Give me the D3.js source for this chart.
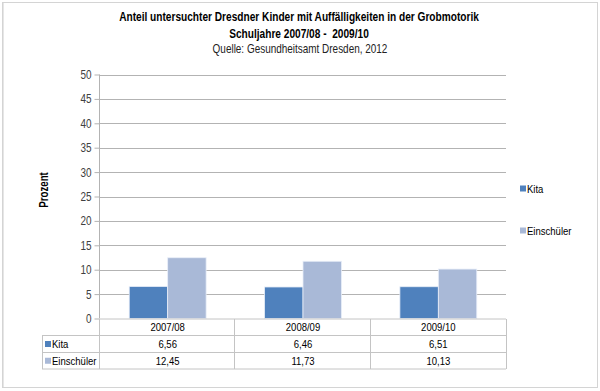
<!DOCTYPE html>
<html><head><meta charset="utf-8">
<script src="https://cdn.jsdelivr.net/npm/d3@7"></script>
<style>
body{margin:0;background:#fff;}
svg{display:block;font-family:"Liberation Sans",Arial,sans-serif;}
</style></head><body>
<svg id="c" width="600" height="391"></svg>
<script>
const categories = ["2007/08","2008/09","2009/10"];
const seriesNames = ["Kita","Einschüler"];
const kita = [6.56,6.46,6.51];
const einschueler = [12.45,11.73,10.13];
const kitaLabels = ["6,56","6,46","6,51"];
const einschuelerLabels = ["12,45","11,73","10,13"];
const yTicks = [0,5,10,15,20,25,30,35,40,45,50];
const colors = ["#4F81BD","#A9B9D7"];

(function(){
const SX = 0.83; // narrow font emulation
const SXB = 0.78;
const svg = d3.select("#c");
function txt(parent, x, y, s, size, opts){
  opts = opts || {};
  const sx = opts.bold ? SXB : SX;
  const g = parent.append("g").attr("transform",`translate(${x},${y})${opts.rot?` rotate(${opts.rot})`:""} scale(${sx},1)`);
  const t = g.append("text").attr("x",0).attr("y",0).attr("font-size",size)
    .attr("text-anchor",opts.anchor||"start").attr("fill",opts.fill||"#000")
    .attr("font-weight",opts.bold?"bold":"normal").text(s);
  if (opts.pre) t.attr("xml:space","preserve");
  return t;
}
svg.append("rect").attr("x",2.5).attr("y",2.5).attr("width",595).attr("height",385)
  .attr("fill","#fff").attr("stroke","#d4d4d4").attr("stroke-width",1);
svg.append("line").attr("x1",3.5).attr("x2",3.5).attr("y1",3).attr("y2",387).attr("stroke","#e6e6e6").attr("stroke-width",1);

txt(svg,299,21,"Anteil untersuchter Dresdner Kinder mit Auffälligkeiten in der Grobmotorik",13,{anchor:"middle",bold:true});
txt(svg,299,38,"Schuljahre 2007/08 -  2009/10",13,{anchor:"middle",bold:true,pre:true});
txt(svg,300,53,"Quelle: Gesundheitsamt Dresden, 2012",12,{anchor:"middle",fill:"#222"});

const pLeft = 100, pRight = 506, pTop = 74.5, pBottom = 318.5;
const x = d3.scaleBand().domain(categories).range([pLeft,pRight]);
const xs = d3.scaleBand().domain(seriesNames).range([0,x.bandwidth()]).paddingInner(0).paddingOuter(0.76);
const y = d3.scaleLinear().domain([0,50]).range([pBottom,pTop]);

svg.append("g").selectAll("line").data(yTicks.filter(d=>d>0)).join("line")
  .attr("x1",pLeft).attr("x2",pRight).attr("y1",d=>Math.round(y(d))+0.5).attr("y2",d=>Math.round(y(d))+0.5)
  .attr("stroke","#b3b3b3");

const yAxis = d3.axisLeft(y).tickValues(yTicks).tickSize(5).tickFormat("");
const ga = svg.append("g").attr("transform",`translate(${pLeft-0.5},0)`).call(yAxis);
ga.select(".domain").attr("stroke","#b3b3b3").attr("d",`M0,${pTop}V${pBottom}`);
ga.selectAll(".tick line").attr("stroke","#b3b3b3");
ga.selectAll(".tick").each(function(d){
  txt(d3.select(this), -8, 4, String(d), 12, {anchor:"end", fill:"#404040"});
});

txt(svg,47.5,190,"Prozent",12.5,{anchor:"middle",bold:true,rot:-90});

const data = [kita, einschueler];
data.forEach((vals,si)=>{
  svg.append("g").selectAll("rect").data(categories).join("rect")
    .attr("x",(c)=>x(c)+xs(seriesNames[si]))
    .attr("width",xs.bandwidth())
    .attr("y",(c,i)=>y(vals[i]))
    .attr("height",(c,i)=>y(0)-y(vals[i]))
    .attr("fill",colors[si]).attr("stroke","#e8eef8").attr("stroke-width",0.8);
});

seriesNames.forEach((s,i)=>{
  const ly = [189,231][i];
  svg.append("rect").attr("x",520).attr("y",ly-3.5).attr("width",6).attr("height",6).attr("fill",colors[i]);
  txt(svg,527,ly+4,s,11.5);
});

const rowY = [319,335.5,352.5,369];
const tableLeft = 42;
const tg = svg.append("g").attr("stroke","#c4c4c4").attr("stroke-width",1);
tg.append("line").attr("x1",pLeft).attr("x2",pRight).attr("y1",rowY[0]).attr("y2",rowY[0]);
[1,2,3].forEach(k=>tg.append("line").attr("x1",tableLeft).attr("x2",pRight).attr("y1",rowY[k]).attr("y2",rowY[k]));
tg.append("line").attr("x1",tableLeft+0.5).attr("x2",tableLeft+0.5).attr("y1",rowY[1]).attr("y2",rowY[3]);
categories.forEach(c=>{
  const xx = Math.round(x(c))-0.5;
  tg.append("line").attr("x1",xx).attr("x2",xx).attr("y1",rowY[0]).attr("y2",rowY[3]);
});
tg.append("line").attr("x1",pRight+0.5).attr("x2",pRight+0.5).attr("y1",rowY[0]).attr("y2",rowY[3]);

categories.forEach(c=>txt(svg, x(c)+x.bandwidth()/2, (rowY[0]+rowY[1])/2+4, c, 11.5, {anchor:"middle"}));
[kitaLabels, einschuelerLabels].forEach((labs,si)=>{
  const cy = (rowY[si+1]+rowY[si+2])/2;
  categories.forEach((c,i)=>txt(svg, x(c)+x.bandwidth()/2, cy+4, labs[i], 11.5, {anchor:"middle"}));
  svg.append("rect").attr("x",45).attr("y",cy-3).attr("width",6).attr("height",6).attr("fill",colors[si]);
  txt(svg,52,cy+4,seriesNames[si],11.5);
});
})();
</script>
</body></html>
